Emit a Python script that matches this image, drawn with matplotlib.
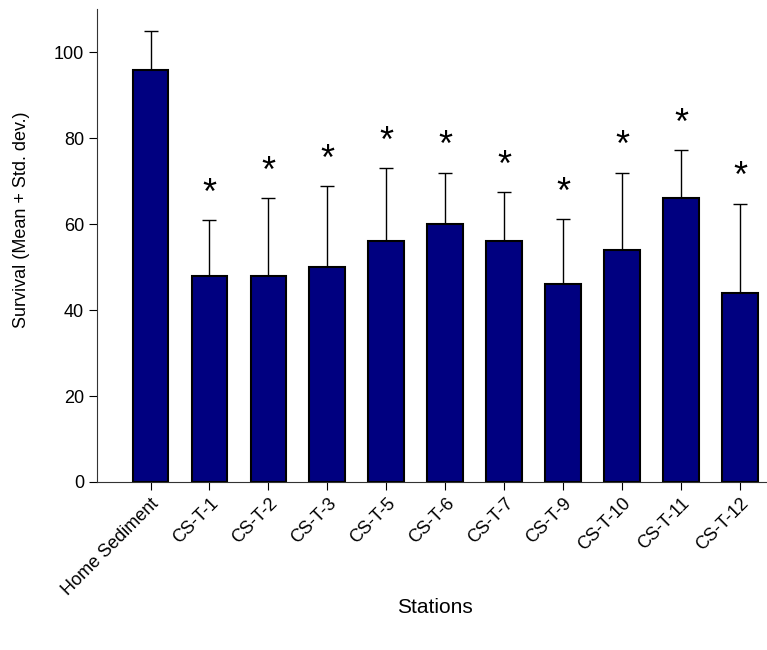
import matplotlib.pyplot as plt
import numpy as np

plt.rcParams['font.family'] = ['Liberation Sans', 'DejaVu Sans']

stations = ["Home Sediment", "CS-T-1", "CS-T-2", "CS-T-3", "CS-T-5", "CS-T-6",
            "CS-T-7", "CS-T-9", "CS-T-10", "CS-T-11", "CS-T-12"]
means = [96, 48, 48, 50, 56, 60, 56, 46, 54, 66, 44]
sds = [9, 13, 18, 18.8, 17, 12, 11.5, 15.2, 18, 11.3, 20.8]
signif = [False, True, True, True, True, True, True, True, True, True, True]

fig = plt.figure(figsize=(7.67, 6.5), dpi=100)
ax = fig.add_axes([0.127, 0.2585, 0.873, 0.727])

x = np.arange(len(stations))
ax.bar(x, means, width=0.61, color='#000080', edgecolor='black', linewidth=1.5, zorder=3)
ax.errorbar(x, means, yerr=[np.zeros(len(sds)), sds], fmt='none', ecolor='black',
            elinewidth=1, capsize=5, capthick=1, zorder=2)

for xi, m, s, sig in zip(x, means, sds, signif):
    if sig:
        ax.text(xi, m + s + 3.8, '*', ha='center', va='baseline', fontsize=26)

ax.set_xlim(-0.9, 10.45)
ax.set_ylim(0, 110)
ax.set_yticks([0, 20, 40, 60, 80, 100])
ax.set_xticks(x)
ax.set_xticklabels(stations, rotation=45, ha='right', rotation_mode='anchor', fontsize=13)
ax.tick_params(axis='y', labelsize=13, direction='out', length=6)
ax.tick_params(axis='x', direction='out', length=6)
for sp in ['top', 'right']:
    ax.spines[sp].set_visible(False)
for sp in ['left', 'bottom']:
    ax.spines[sp].set_color('#333333')

ax.set_ylabel("Survival (Mean + Std. dev.)", fontsize=13)
ax.yaxis.set_label_coords(-0.1, 0.554)
ax.set_xlabel("Stations", fontsize=15)
ax.xaxis.set_label_coords(0.504, -0.245)

fig.savefig("out.png", dpi=100)
